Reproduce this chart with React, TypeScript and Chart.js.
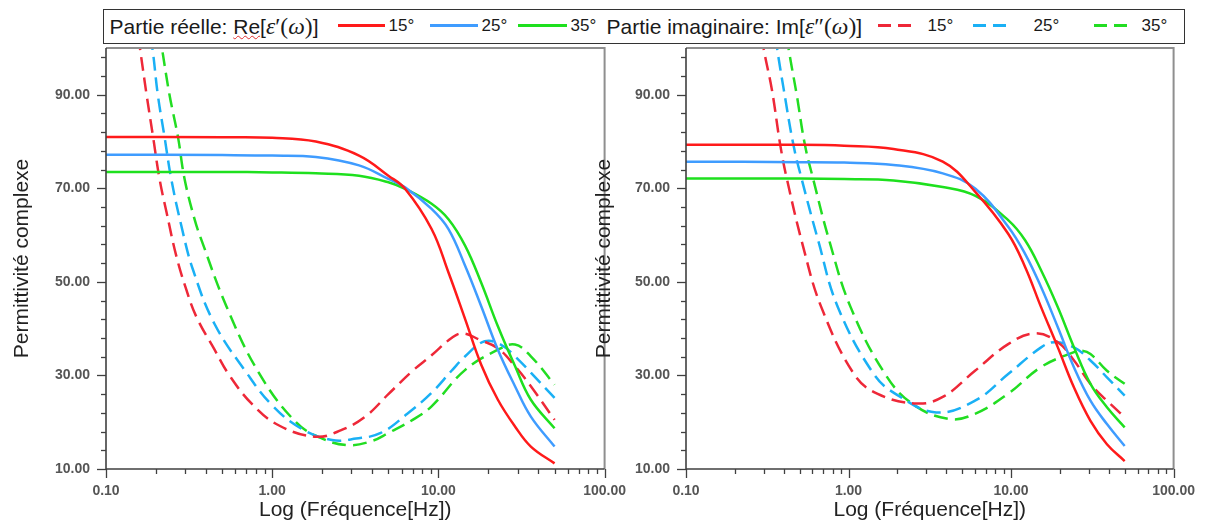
import React, { useEffect, useRef } from 'react';
import { Chart, registerables } from 'chart.js';

Chart.register(...registerables);

const SANS = '"Liberation Sans", Arial, sans-serif';
const SERIF = '"Liberation Serif", "DejaVu Serif", serif';

// ---- axis ticks ----
const xMajorTicks = [0.1, 1, 10, 100];
const xMinorTicks = [0.2, 0.3, 0.4, 0.5, 0.6, 0.7, 0.8, 0.9, 2, 3, 4, 5, 6, 7, 8, 9, 20, 30, 40, 50, 60, 70, 80, 90];
const yMajorTicks = [10, 30, 50, 70, 90];
const yMinorTicks = [14, 18, 22, 26, 34, 38, 42, 46, 54, 58, 62, 66, 74, 78, 82, 86, 94, 98];

// ---- series labels ----
const tempLabels = ['15°', '25°', '35°'];

// ---- left panel: real part (solid) ----
const leftRealFreq = [0.1, 0.5, 1, 1.83, 3.33, 5, 6.3, 9.1, 11.5, 14.5, 18.1, 22.8, 28.9, 36, 50];
const leftRealRed = [81.0, 80.9, 80.8, 80.0, 77.0, 72.7, 69.9, 61.3, 52.0, 42.0, 32.3, 24.8, 19.1, 14.8, 11.2];
const leftRealBlue = [77.2, 77.1, 77.0, 76.7, 74.9, 72.0, 70.2, 65.6, 61.3, 53.4, 44.8, 35.5, 27.7, 21.2, 14.8];
const leftRealGreen = [73.5, 73.5, 73.4, 73.2, 72.7, 71.3, 69.9, 66.7, 63.4, 57.7, 49.8, 40.5, 32.0, 24.8, 18.7];

// ---- left panel: imaginary part (dashed) ----
const leftImFreqRed = [0.15, 0.16, 0.175, 0.192, 0.21, 0.231, 0.265, 0.304, 0.349, 0.45, 0.553, 0.76, 1.1, 1.83, 2.6, 3.63, 5.0, 7.0, 9.1, 12, 14, 18, 22.8, 28.9, 36, 50];
const leftImRed = [107, 100, 90.3, 81, 72, 65, 55.5, 48.4, 42.6, 35.5, 30.0, 23.8, 19.3, 16.9, 18.3, 21.2, 26.0, 31.0, 34.3, 38.0, 39.0, 37.5, 35.8, 32, 27.7, 20.5];
const leftImFreqBlue = [0.175, 0.19, 0.205, 0.225, 0.247, 0.284, 0.333, 0.45, 0.70, 1.0, 1.5, 2.29, 3.2, 4.5, 6.5, 9.1, 12, 14.5, 19, 24, 28.9, 36, 50];
const leftImBlue = [107, 100, 90, 81, 72, 62, 52.7, 41, 30.6, 23.6, 18.6, 16.2, 16.5, 17.7, 21.8, 26.3, 31.0, 34.1, 37.3, 36.5, 34.1, 30.6, 25.2];
const leftImFreqGreen = [0.2, 0.217, 0.241, 0.271, 0.297, 0.341, 0.374, 0.53, 0.83, 1.39, 2.0, 2.89, 4.0, 5.0, 7, 9.1, 14.5, 22.8, 28.9, 36, 50];
const leftImGreen = [108, 100, 90, 81, 72, 63.4, 59.1, 44.8, 30.6, 20.0, 16.5, 15.1, 16.0, 17.7, 20.5, 23.4, 31.2, 35.5, 36.6, 34.1, 28.0];

// ---- right panel: real part (solid) ----
const rightRealFreq = [0.1, 0.5, 0.94, 1.89, 3.8, 6.04, 9.6, 12.2, 15.3, 19.4, 24.4, 30.8, 38.9, 50];
const rightRealRed = [79.3, 79.3, 79.1, 78.4, 75.7, 69.2, 60.3, 53.2, 44.6, 36.0, 27.4, 20.3, 15.3, 11.7];
const rightRealBlue = [75.7, 75.6, 75.5, 75.0, 73.2, 69.9, 61.8, 56.0, 48.9, 40.3, 31.7, 24.6, 19.6, 14.9];
const rightRealGreen = [72.1, 72.1, 72.0, 71.7, 70.3, 68.4, 63.2, 58.9, 52.5, 44.6, 36.0, 28.2, 23.2, 18.9];

// ---- right panel: imaginary part (dashed) ----
const rightImFreqRed = [0.28, 0.30, 0.338, 0.38, 0.417, 0.526, 0.68, 1.08, 1.5, 2.62, 3.8, 6.0, 9.6, 14.0, 19.4, 24.4, 30.8, 38.9, 50];
const rightImRed = [107, 100, 91, 79.3, 72.1, 57.5, 44.6, 30.3, 26.1, 24.0, 25.4, 31.0, 36.7, 39.0, 37.1, 33.2, 28.2, 24.6, 21.1];
const rightImFreqBlue = [0.34, 0.363, 0.40, 0.458, 0.514, 0.65, 0.86, 1.43, 2.0, 3.46, 6.0, 9.6, 15.3, 18.5, 24.4, 30.8, 38.9, 50];
const rightImBlue = [107, 100, 91, 79.3, 72.1, 58.9, 44.6, 30.3, 25.8, 22.1, 24.6, 30.3, 36.0, 37.1, 36.0, 33.2, 29.6, 25.7];
const rightImFreqGreen = [0.40, 0.427, 0.48, 0.539, 0.605, 0.76, 1.03, 1.68, 2.5, 4.17, 6.0, 9.6, 15.3, 24.4, 27, 30.8, 38.9, 50];
const rightImGreen = [107, 100, 90, 79.3, 72.1, 58.9, 44.6, 30.3, 23.8, 20.7, 21.8, 26.1, 31.8, 35.0, 35.3, 34.6, 31.0, 28.2];

// ---- colours ----
const RED = '#ff1a1a';
const RED_DASH = '#ee2838';
const BLUE = '#3f9cff';
const BLUE_DASH = '#1ab0f5';
const GREEN = '#1ee01e';
const GREEN_DASH = '#22dd22';
const DASH = [14, 7];

const toPoints = (f: number[], v: number[]) => f.map((x, i) => ({ x, y: v[i] }));

const solid = (label: string, f: number[], v: number[], color: string) => ({
  label, data: toPoints(f, v), borderColor: color, backgroundColor: color,
  borderWidth: 2.5, pointRadius: 0, tension: 0.4, fill: false,
});
const dashed = (label: string, f: number[], v: number[], color: string) => ({
  ...solid(label, f, v, color), borderDash: DASH,
});

const axisFramePlugin = {
  id: 'axisFrame',
  afterDraw(chart: any) {
    const { ctx, chartArea: ca, scales } = chart;
    const xs = scales.x;
    const ys = scales.y;
    ctx.save();
    ctx.lineCap = 'butt';
    ctx.strokeStyle = '#8f8f8f';
    ctx.lineWidth = 2;
    ctx.beginPath();
    ctx.moveTo(ca.left, ca.top);
    ctx.lineTo(ca.right, ca.top);
    ctx.lineTo(ca.right, ca.bottom);
    ctx.stroke();
    ctx.strokeStyle = '#404040';
    ctx.lineWidth = 1.6;
    ctx.beginPath();
    ctx.moveTo(ca.left, ca.top);
    ctx.lineTo(ca.left, ca.bottom);
    ctx.lineTo(ca.right, ca.bottom);
    ctx.stroke();
    ctx.lineWidth = 1.3;
    ctx.strokeStyle = '#404040';
    const xt = (v: number, len: number) => {
      const x = Math.round(xs.getPixelForValue(v)) + 0.5;
      ctx.beginPath();
      ctx.moveTo(x, ca.bottom);
      ctx.lineTo(x, ca.bottom + len);
      ctx.stroke();
    };
    const yt = (v: number, len: number) => {
      const y = Math.round(ys.getPixelForValue(v)) + 0.5;
      ctx.beginPath();
      ctx.moveTo(ca.left - len, y);
      ctx.lineTo(ca.left, y);
      ctx.stroke();
    };
    xMajorTicks.forEach((v) => xt(v, 9));
    xMinorTicks.forEach((v) => xt(v, 5));
    yMajorTicks.forEach((v) => yt(v, 9));
    yMinorTicks.forEach((v) => yt(v, 5));
    ctx.restore();
  },
};

const buildConfig = (datasets: any[], yTitlePad: number, rightPad: number): any => ({
  type: 'line',
  data: { datasets },
  plugins: [axisFramePlugin],
  options: {
    animation: false,
    responsive: false,
    maintainAspectRatio: false,
    events: [],
    layout: { padding: { top: 48, right: rightPad, left: 0, bottom: 0 } },
    plugins: { legend: { display: false }, tooltip: { enabled: false } },
    elements: { point: { radius: 0 } },
    scales: {
      x: {
        type: 'logarithmic',
        min: 0.1,
        max: 100,
        afterBuildTicks: (s: any) => { s.ticks = xMajorTicks.map((v) => ({ value: v })); },
        afterFit: (s: any) => { s.height = 56; },
        grid: { display: false, drawTicks: false },
        border: { display: false },
        ticks: {
          autoSkip: false, maxRotation: 0, minRotation: 0, padding: 14,
          color: '#555', font: { family: SANS, size: 14, weight: 'bold' },
          callback: (v: any) => Number(v).toFixed(2),
        },
        title: {
          display: true, text: 'Log (Fréquence[Hz])', color: '#222',
          font: { family: SANS, size: 21 }, padding: { top: 0, bottom: 2 },
        },
      },
      y: {
        type: 'linear',
        min: 10,
        max: 100,
        afterBuildTicks: (s: any) => { s.ticks = yMajorTicks.map((v) => ({ value: v })); },
        afterFit: (s: any) => { s.width = 106; },
        grid: { display: false, drawTicks: false },
        border: { display: false },
        ticks: {
          autoSkip: false, padding: 16,
          color: '#555', font: { family: SANS, size: 14, weight: 'bold' },
          callback: (v: any) => Number(v).toFixed(2),
        },
        title: {
          display: true, text: 'Permittivité complexe', color: '#222',
          font: { family: SANS, size: 21 }, padding: { top: yTitlePad, bottom: 0 },
        },
      },
    },
  },
});

function Panel({ left, width, datasets, yTitlePad, rightPad }: any) {
  const ref = useRef<HTMLCanvasElement>(null);
  useEffect(() => {
    if (!ref.current) return;
    const chart = new Chart(ref.current, buildConfig(datasets, yTitlePad, rightPad));
    return () => chart.destroy();
  }, []);
  return (
    <canvas
      ref={ref}
      width={width}
      height={525}
      style={{ position: 'absolute', left, top: 0, width, height: 525 }}
    />
  );
}

const mathStyle: React.CSSProperties = { fontFamily: SERIF, fontStyle: 'italic', fontSize: '1.12em' };
const mathUp: React.CSSProperties = { fontFamily: SERIF, fontSize: '1.12em' };

const textStyle = (x: number, size: number): React.CSSProperties => ({
  position: 'absolute', left: x, top: 0, lineHeight: '32px', fontSize: size,
  color: '#1a1a1a', whiteSpace: 'nowrap', fontFamily: SANS,
});

const BOX_L = 104.5;

function SolidSample({ x, w, color }: any) {
  return <div style={{ position: 'absolute', left: x - BOX_L, top: 14, width: w, height: 3, background: color }} />;
}
function DashSample({ x, color }: any) {
  return (
    <>
      <div style={{ position: 'absolute', left: x - BOX_L, top: 14, width: 13, height: 3, background: color }} />
      <div style={{ position: 'absolute', left: x - BOX_L + 20, top: 14, width: 13, height: 3, background: color }} />
    </>
  );
}

function Legend() {
  return (
    <div
      style={{
        position: 'absolute', left: 103, top: 9, width: 1082, height: 35,
        border: '1.5px solid #333', boxSizing: 'border-box', background: '#fff', zIndex: 2,
      }}
    >
      <span style={textStyle(110 - BOX_L, 21)}>
        Partie réelle:{' '}
        <span style={{ textDecoration: 'underline wavy #e03030', textDecorationThickness: 1 }}>Re</span>[
        <span style={mathStyle}>ε</span>
        <span style={mathUp}>′(</span>
        <span style={mathStyle}>ω</span>
        <span style={mathUp}>)</span>]
      </span>
      <SolidSample x={338} w={47} color={RED} />
      <span style={textStyle(389 - BOX_L, 17)}>{tempLabels[0]}</span>
      <SolidSample x={430} w={48} color={BLUE} />
      <span style={textStyle(482 - BOX_L, 17)}>{tempLabels[1]}</span>
      <SolidSample x={518} w={49} color={GREEN} />
      <span style={textStyle(571 - BOX_L, 17)}>{tempLabels[2]}</span>

      <span style={textStyle(607 - BOX_L, 21)}>
        Partie imaginaire: Im[
        <span style={mathStyle}>ε</span>
        <span style={mathUp}>″(</span>
        <span style={mathStyle}>ω</span>
        <span style={mathUp}>)</span>]
      </span>
      <DashSample x={878} color={RED_DASH} />
      <span style={textStyle(928 - BOX_L, 17)}>{tempLabels[0]}</span>
      <DashSample x={973} color={BLUE_DASH} />
      <span style={textStyle(1034 - BOX_L, 17)}>{tempLabels[1]}</span>
      <DashSample x={1094} color={GREEN_DASH} />
      <span style={textStyle(1142 - BOX_L, 17)}>{tempLabels[2]}</span>
    </div>
  );
}

export default function App() {
  const leftSets = [
    solid('Re 15°', leftRealFreq, leftRealRed, RED),
    solid('Re 25°', leftRealFreq, leftRealBlue, BLUE),
    solid('Re 35°', leftRealFreq, leftRealGreen, GREEN),
    dashed('Im 15°', leftImFreqRed, leftImRed, RED_DASH),
    dashed('Im 25°', leftImFreqBlue, leftImBlue, BLUE_DASH),
    dashed('Im 35°', leftImFreqGreen, leftImGreen, GREEN_DASH),
  ];
  const rightSets = [
    solid('Re 15°', rightRealFreq, rightRealRed, RED),
    solid('Re 25°', rightRealFreq, rightRealBlue, BLUE),
    solid('Re 35°', rightRealFreq, rightRealGreen, GREEN),
    dashed('Im 15°', rightImFreqRed, rightImRed, RED_DASH),
    dashed('Im 25°', rightImFreqBlue, rightImBlue, BLUE_DASH),
    dashed('Im 35°', rightImFreqGreen, rightImGreen, GREEN_DASH),
  ];
  return (
    <div style={{ position: 'fixed', left: 0, top: 0, width: 1209, height: 525, background: '#fff', overflow: 'hidden' }}>
      <Panel left={0} width={640} datasets={leftSets} yTitlePad={10} rightPad={33} />
      <Panel left={580} width={629} datasets={rightSets} yTitlePad={12} rightPad={28} />
      <Legend />
    </div>
  );
}
